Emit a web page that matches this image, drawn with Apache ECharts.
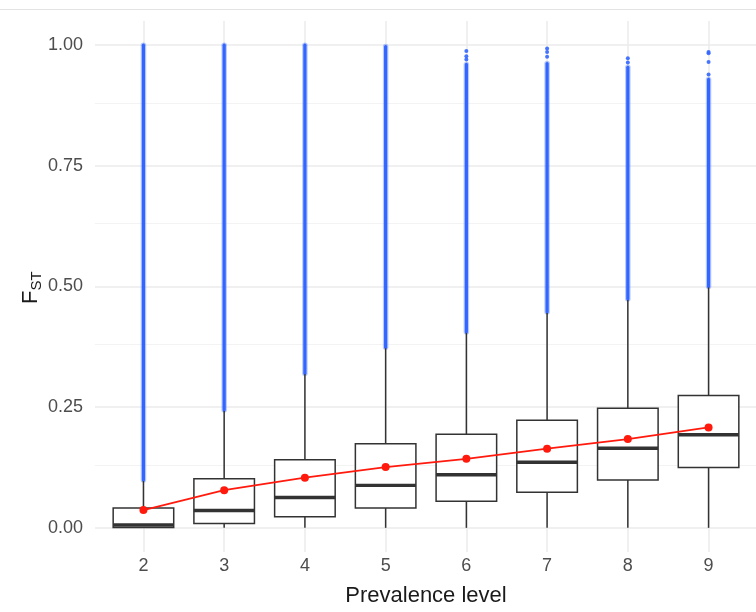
<!DOCTYPE html>
<html>
<head>
<meta charset="utf-8">
<script src="https://cdn.jsdelivr.net/npm/echarts@6/dist/echarts.min.js"></script>
<style>
  html, body { margin: 0; padding: 0; background: #ffffff; }
  #chart { width: 756px; height: 612px; }
</style>
</head>
<body>
<div id="chart"></div>
<script>
// Prevalence levels (x categories)
const levels = [2, 3, 4, 5, 6, 7, 8, 9];

// Box statistics of F_ST per prevalence level
const whiskerLow  = [0, 0, 0, 0, 0, 0, 0, 0];
const q1          = [0.001, 0.009, 0.023, 0.041, 0.055, 0.074, 0.099, 0.125];
const median      = [0.006, 0.036, 0.063, 0.088, 0.110, 0.136, 0.165, 0.193];
const q3          = [0.041, 0.102, 0.141, 0.174, 0.194, 0.223, 0.248, 0.274];
const whiskerHigh = [0.097, 0.242, 0.318, 0.372, 0.404, 0.445, 0.472, 0.498];

// Mean F_ST per level
const means = [0.037, 0.078, 0.104, 0.126, 0.143, 0.164, 0.184, 0.208];

// Outliers: a continuous run from just above the whisker to the run's end
const outlierFrom = [0.099, 0.244, 0.320, 0.374, 0.406, 0.447, 0.474, 0.500];
const outlierTo   = [1.000, 1.000, 1.000, 0.997, 0.960, 0.962, 0.954, 0.929];

// Isolated outliers above the dense runs
const sparseLevels = [6, 6, 6, 7, 7, 7, 8, 8, 9, 9, 9, 9];
const sparseValues = [0.988, 0.977, 0.970, 0.993, 0.986, 0.976, 0.973, 0.964, 0.986, 0.983, 0.965, 0.939];

// Axis ticks
const yTicks = [0, 0.25, 0.5, 0.75, 1.0];
const yMinorTicks = [0.125, 0.375, 0.625, 0.875];

const FONT = '"Liberation Sans", Arial, Helvetica, sans-serif';
const BOX_COLOR = '#333333';
const OUTLIER_COLOR = '#3366FF';
const MEAN_COLOR = '#FF1a0d';
const BOX_WIDTH = 0.75;

const chart = echarts.init(document.getElementById('chart'), null, { renderer: 'canvas' });

function renderBox(params, api) {
  const x = api.value(0);
  const lo = api.coord([x, api.value(1)]);
  const b1 = api.coord([x, api.value(2)]);
  const md = api.coord([x, api.value(3)]);
  const b3 = api.coord([x, api.value(4)]);
  const hi = api.coord([x, api.value(5)]);
  const half = api.size([BOX_WIDTH, 0])[0] / 2;
  const stroke = { stroke: BOX_COLOR, lineWidth: 1.5, fill: null };
  return {
    type: 'group',
    children: [
      { type: 'line', shape: { x1: lo[0], y1: lo[1], x2: b1[0], y2: b1[1] }, style: stroke },
      { type: 'line', shape: { x1: b3[0], y1: b3[1], x2: hi[0], y2: hi[1] }, style: stroke },
      { type: 'rect', shape: { x: b3[0] - half, y: b3[1], width: half * 2, height: b1[1] - b3[1] },
        style: { fill: '#ffffff', stroke: BOX_COLOR, lineWidth: 1.5 } },
      { type: 'line', shape: { x1: md[0] - half, y1: md[1], x2: md[0] + half, y2: md[1] },
        style: { stroke: BOX_COLOR, lineWidth: 3.4 } }
    ]
  };
}

function renderOutlierRun(params, api) {
  const x = api.value(0);
  const a = api.coord([x, api.value(1)]);
  const b = api.coord([x, api.value(2)]);
  return {
    type: 'group',
    children: [
      { type: 'line', shape: { x1: a[0], y1: a[1], x2: b[0], y2: b[1] },
        style: { stroke: 'rgba(51,102,255,0.35)', lineWidth: 5.5, lineCap: 'round' } },
      { type: 'line', shape: { x1: a[0], y1: a[1], x2: b[0], y2: b[1] },
        style: { stroke: OUTLIER_COLOR, lineWidth: 3.2, lineCap: 'round' } }
    ]
  };
}

const majorLine = { color: '#ebebeb', width: 1.5, type: 'solid' };
const minorLine = { color: '#f3f3f3', width: 1, type: 'solid' };

const option = {
  animation: false,
  backgroundColor: '#ffffff',
  grid: { left: 95, right: -1, top: 21, bottom: 60, containLabel: false, outerBoundsMode: 'none' },
  xAxis: {
    type: 'value',
    min: 1.4,
    max: 9.6,
    name: 'Prevalence level',
    nameLocation: 'middle',
    nameGap: 33,
    nameTextStyle: { fontFamily: FONT, fontSize: 22, color: '#1a1a1a' },
    axisLine: { show: false },
    axisTick: { show: false },
    splitLine: { show: false },
    axisLabel: {
      customValues: levels,
      formatter: v => String(v),
      fontFamily: FONT, fontSize: 18, color: '#4d4d4d', margin: 5
    }
  },
  yAxis: {
    type: 'value',
    min: -0.05,
    max: 1.05,
    axisLine: { show: false },
    axisTick: { show: false },
    splitLine: { show: false },
    axisLabel: {
      customValues: yTicks,
      formatter: v => v.toFixed(2),
      fontFamily: FONT, fontSize: 18, color: '#4d4d4d', margin: 12
    }
  },
  graphic: [
    { type: 'line', shape: { x1: 0, y1: 9.5, x2: 756, y2: 9.5 },
      style: { stroke: '#e3e3e3', lineWidth: 1 }, silent: true },
    {
      type: 'group', x: 31, y: 288, rotation: Math.PI / 2,
      children: [
        { type: 'text', x: -16, y: 0,
          style: { text: 'F', font: '22px ' + FONT, fill: '#1a1a1a', textAlign: 'left', textVerticalAlign: 'middle' } },
        { type: 'text', x: -2.5, y: 6,
          style: { text: 'ST', font: '15px ' + FONT, fill: '#1a1a1a', textAlign: 'left', textVerticalAlign: 'middle' } }
      ]
    }
  ],
  series: [
    {
      // panel grid lines
      type: 'line',
      data: [],
      silent: true,
      z: 0,
      markLine: {
        silent: true,
        symbol: 'none',
        z: 0,
        label: { show: false },
        emphasis: { disabled: true },
        data: [
          ...yMinorTicks.map(v => ({ yAxis: v, lineStyle: minorLine })),
          ...yTicks.map(v => ({ yAxis: v, lineStyle: majorLine })),
          ...levels.map(v => ({ xAxis: v, lineStyle: majorLine }))
        ]
      }
    },
    {
      type: 'custom',
      name: 'outlierRuns',
      renderItem: renderOutlierRun,
      z: 2,
      silent: true,
      encode: { x: 0, y: [1, 2] },
      data: levels.map((lv, i) => [lv, outlierFrom[i], outlierTo[i]])
    },
    {
      type: 'scatter',
      name: 'outliers',
      z: 2,
      silent: true,
      symbol: 'circle',
      symbolSize: 4,
      itemStyle: { color: OUTLIER_COLOR, opacity: 0.9 },
      data: sparseLevels.map((lv, i) => [lv, sparseValues[i]])
    },
    {
      type: 'custom',
      name: 'boxes',
      renderItem: renderBox,
      z: 3,
      silent: true,
      encode: { x: 0, y: [1, 2, 3, 4, 5] },
      data: levels.map((lv, i) => [lv, whiskerLow[i], q1[i], median[i], q3[i], whiskerHigh[i]])
    },
    {
      type: 'line',
      name: 'mean',
      z: 4,
      silent: true,
      symbol: 'circle',
      symbolSize: 8,
      showSymbol: true,
      lineStyle: { color: MEAN_COLOR, width: 1.8 },
      itemStyle: { color: MEAN_COLOR, borderWidth: 0 },
      data: levels.map((lv, i) => [lv, means[i]])
    }
  ]
};

chart.setOption(option);
</script>
</body>
</html>
